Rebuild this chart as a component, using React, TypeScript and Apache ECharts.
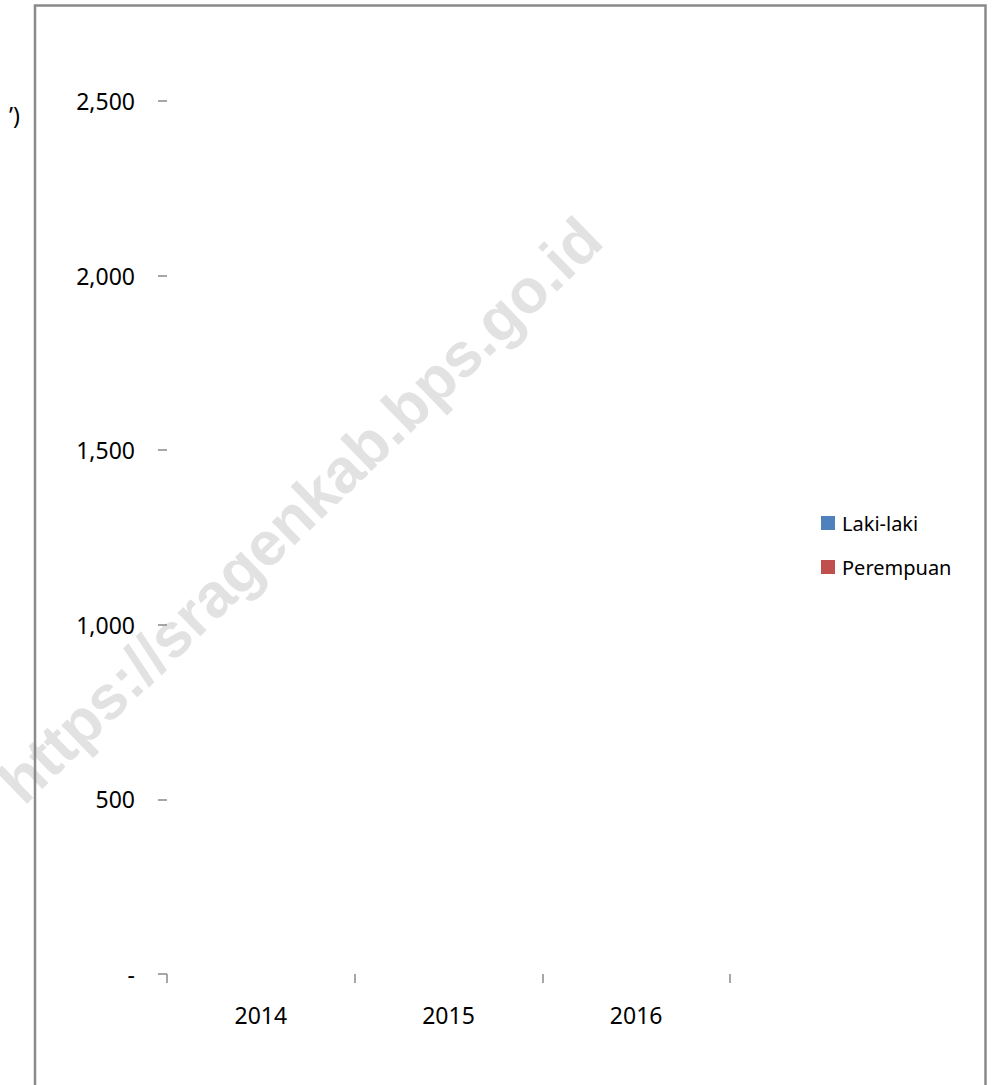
import React, { useEffect, useRef } from "react";
import * as echarts from "echarts";

const categories = ["2014", "2015", "2016"];
const seriesNames = ["Laki-laki", "Perempuan"];
const lakiLaki: (number | null)[] = [null, null, null];
const perempuan: (number | null)[] = [null, null, null];
const yTicks = { min: 0, max: 2500, interval: 500 };
const colors = ["#4F81BD", "#C0504D"];
const watermark = "https://sragenkab.bps.go.id";
const cutTitle = "’)";

const FONT = "'Noto Sans', 'Open Sans', sans-serif";

export default function App() {
  const ref = useRef<HTMLDivElement>(null);
  useEffect(() => {
    if (!ref.current) return;
    const chart = echarts.init(ref.current, undefined, { renderer: "svg" });
    chart.setOption({
      animation: false,
      backgroundColor: "#ffffff",
      textStyle: { fontFamily: FONT },
      color: colors,
      grid: { left: 167, right: 262, top: 101, bottom: 111, containLabel: false },
      legend: {
        orient: "vertical",
        left: 821,
        top: 513,
        padding: 0,
        icon: "rect",
        itemWidth: 14,
        itemHeight: 14,
        itemGap: 24,
        data: seriesNames,
        textStyle: { fontSize: 20, color: "#000", fontFamily: FONT, padding: [0, 0, 0, 2] },
      },
      xAxis: {
        type: "category",
        data: categories,
        axisLine: { show: false },
        axisTick: { show: true, length: 9, lineStyle: { color: "#8a8a8a", width: 1.5 } },
        axisLabel: { fontSize: 23, color: "#000", margin: 29, fontFamily: FONT },
        splitLine: { show: false },
      },
      yAxis: {
        type: "value",
        min: yTicks.min,
        max: yTicks.max,
        interval: yTicks.interval,
        axisLine: { show: false },
        axisTick: { show: true, length: 9, lineStyle: { color: "#8a8a8a", width: 1.5 } },
        splitLine: { show: false },
        axisLabel: {
          fontSize: 23,
          color: "#000",
          margin: 32,
          fontFamily: FONT,
          formatter: (v: number) => (v === 0 ? "-" : v.toLocaleString("en-US")),
        },
      },
      series: [
        { name: seriesNames[0], type: "bar", data: lakiLaki, itemStyle: { color: colors[0] } },
        { name: seriesNames[1], type: "bar", data: perempuan, itemStyle: { color: colors[1] } },
      ],
      graphic: [
        {
          type: "text",
          z: 0,
          x: 300,
          y: 510,
          rotation: (44 * Math.PI) / 180,
          style: {
            text: watermark,
            fontSize: 62,
            fontWeight: "bold",
            fontFamily: "'Liberation Sans', Arial, sans-serif",
            fill: "#e2e2e2",
            align: "center",
            verticalAlign: "middle",
          },
        },
        {
          type: "rect",
          z: 10,
          shape: { x: 35, y: 5.5, width: 950.5, height: 1200 },
          style: { fill: "none", stroke: "#8a8a8a", lineWidth: 2.5 },
        },
        {
          type: "text",
          z: 10,
          x: 20,
          y: 115,
          style: {
            text: cutTitle,
            fontSize: 23,
            fontFamily: FONT,
            fill: "#000",
            align: "right",
            verticalAlign: "middle",
          },
        },
      ],
    });
    return () => chart.dispose();
  }, []);
  return (
    <div
      ref={ref}
      style={{ position: "absolute", left: 0, top: 0, width: 992, height: 1085 }}
    />
  );
}
